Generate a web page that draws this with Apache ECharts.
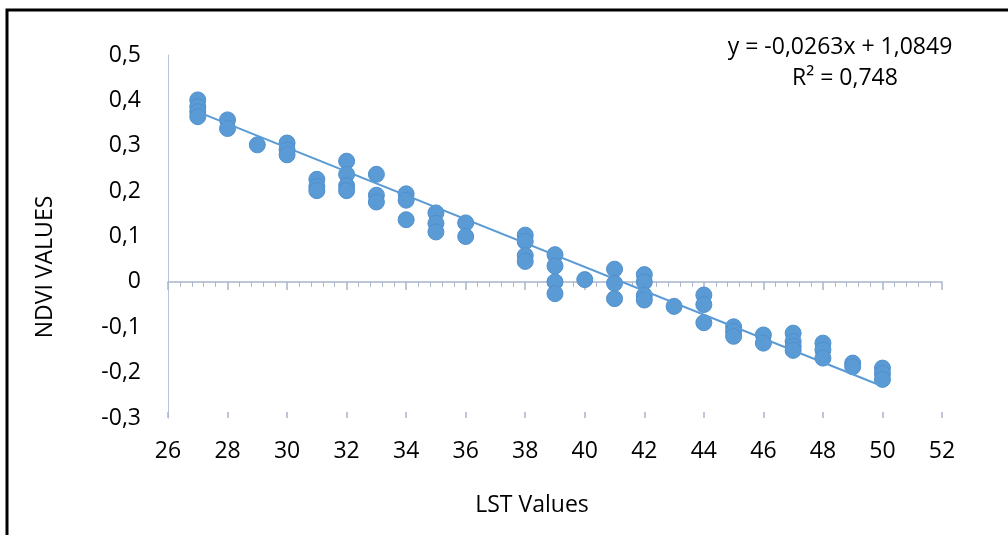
<!DOCTYPE html>
<html lang="en">
<head>
    <meta charset="UTF-8">
    <title>LST vs NDVI</title>
    <style>
        html, body {
            margin: 0;
            width: 100%;
            height: 100%;
            background: #ffffff;
            overflow: hidden;
        }

        #container {
            width: 1008px;
            height: 535px;
        }
    </style>
</head>
<body>
<div id="container"></div>
<script src="https://cdn.jsdelivr.net/npm/echarts@6/dist/echarts.min.js"></script>
<script>
    // LST (x) / NDVI (y) pairs
    var lstValues = [
        27, 27, 27, 27,
        28, 28,
        29,
        30, 30, 30,
        31, 31, 31,
        32, 32, 32, 32,
        33, 33, 33,
        34, 34, 34,
        35, 35, 35,
        36, 36,
        38, 38, 38, 38,
        39, 39, 39, 39,
        40,
        41, 41, 41,
        42, 42, 42, 42,
        43,
        44, 44, 44,
        45, 45, 45,
        46, 46,
        47, 47, 47, 47,
        48, 48, 48,
        49, 49,
        50, 50, 50
    ];
    var ndviValues = [
        0.401, 0.386, 0.375, 0.364,
        0.357, 0.338,
        0.302,
        0.306, 0.291, 0.280,
        0.226, 0.210, 0.201,
        0.266, 0.237, 0.212, 0.201,
        0.237, 0.191, 0.176,
        0.194, 0.180, 0.137,
        0.152, 0.129, 0.110,
        0.130, 0.100,
        0.103, 0.089, 0.058, 0.045,
        0.060, 0.035, 0.000, -0.026,
        0.005,
        0.028, -0.003, -0.037,
        0.016, 0.000, -0.030, -0.040,
        -0.054,
        -0.029, -0.050, -0.090,
        -0.099, -0.109, -0.120,
        -0.117, -0.135,
        -0.113, -0.131, -0.142, -0.151,
        -0.135, -0.150, -0.168,
        -0.179, -0.187,
        -0.190, -0.202, -0.215
    ];
    // linear trend line end points (y = -0,0263x + 1,0849)
    var trendX = [27, 50];
    var trendY = [0.3748, -0.2301];

    var equationText = 'y = -0,0263x + 1,0849';
    var r2Text = 'R² = 0,748';

    var font = "'Open Sans', 'Noto Sans', sans-serif";
    var blue = '#5b9bd5';
    var axisGray = '#a9b5cc';

    // decimal comma for the y axis, plain integers for x
    function fmtY(v) {
        if (Math.abs(v) < 1e-9) return '0';
        return v.toFixed(1).replace('.', ',');
    }
    function fmtX(v) {
        return String(Math.round(v));
    }

    var points = [];
    for (var i = 0; i < lstValues.length; i++) {
        points.push([lstValues[i], ndviValues[i]]);
    }
    var trend = [];
    for (var j = 0; j < trendX.length; j++) {
        trend.push([trendX[j], trendY[j]]);
    }

    var myChart = echarts.init(document.getElementById('container'));
    var option = {
        animation: false,
        grid: {
            left: 168,
            right: 66,
            top: 55,
            bottom: 117
        },
        xAxis: [
            {
                // the crossing line at zero, ticks below + minor ticks
                type: 'value',
                position: 'bottom',
                min: 26,
                max: 52,
                interval: 2,
                axisLine: {show: true, onZero: true, lineStyle: {color: axisGray, width: 1.5}},
                axisTick: {show: true, inside: false, length: 8, lineStyle: {color: axisGray, width: 1.5}},
                minorTick: {show: true, splitNumber: 5, length: 5, lineStyle: {color: axisGray, width: 1}},
                axisLabel: {show: false},
                splitLine: {show: false}
            },
            {
                // upper half of the major ticks
                type: 'value',
                position: 'bottom',
                min: 26,
                max: 52,
                interval: 2,
                axisLine: {show: false, onZero: true},
                axisTick: {show: true, inside: true, length: 6, lineStyle: {color: axisGray, width: 1.5}},
                axisLabel: {show: false},
                splitLine: {show: false}
            },
            {
                // labels at the bottom
                type: 'value',
                position: 'bottom',
                min: 26,
                max: 52,
                interval: 2,
                axisLine: {show: false, onZero: false},
                axisTick: {show: false},
                axisLabel: {
                    margin: 22,
                    color: '#000',
                    fontFamily: font,
                    fontSize: 23,
                    formatter: fmtX
                },
                splitLine: {show: false}
            }
        ],
        yAxis: {
            type: 'value',
            min: -0.3,
            max: 0.5,
            interval: 0.1,
            axisLine: {show: true, lineStyle: {color: '#b8c4dc', width: 1}},
            axisTick: {show: false},
            splitLine: {show: false},
            axisLabel: {
                margin: 27,
                color: '#000',
                fontFamily: font,
                fontSize: 23,
                formatter: fmtY
            }
        },
        graphic: [
            {
                type: 'rect',
                shape: {x: 7, y: 10, width: 1020, height: 560},
                style: {fill: 'none', stroke: '#000', lineWidth: 3},
                silent: true
            },
            {
                type: 'text',
                x: 45,
                y: 267,
                rotation: Math.PI / 2,
                style: {
                    text: 'NDVI VALUES',
                    fontFamily: font,
                    fontSize: 23,
                    fill: '#000',
                    align: 'center',
                    verticalAlign: 'middle'
                }
            },
            {
                type: 'text',
                x: 532,
                y: 505,
                style: {
                    text: 'LST Values',
                    fontFamily: font,
                    fontSize: 23,
                    fill: '#000',
                    align: 'center',
                    verticalAlign: 'middle'
                }
            },
            {
                type: 'text',
                x: 840,
                y: 47,
                style: {
                    text: equationText,
                    fontFamily: font,
                    fontSize: 23,
                    fill: '#000',
                    align: 'center',
                    verticalAlign: 'middle'
                }
            },
            {
                type: 'text',
                x: 845,
                y: 78,
                style: {
                    text: r2Text,
                    fontFamily: font,
                    fontSize: 23,
                    fill: '#000',
                    align: 'center',
                    verticalAlign: 'middle'
                }
            }
        ],
        series: [
            {
                name: 'NDVI',
                type: 'scatter',
                xAxisIndex: 0,
                symbolSize: 16,
                itemStyle: {
                    color: blue,
                    borderColor: '#4f8fcc',
                    borderWidth: 1,
                    opacity: 1
                },
                data: points
            },
            {
                name: 'Trend',
                type: 'line',
                xAxisIndex: 0,
                symbol: 'none',
                lineStyle: {color: blue, width: 2},
                data: trend
            }
        ]
    };
    myChart.setOption(option);
</script>
</body>
</html>
